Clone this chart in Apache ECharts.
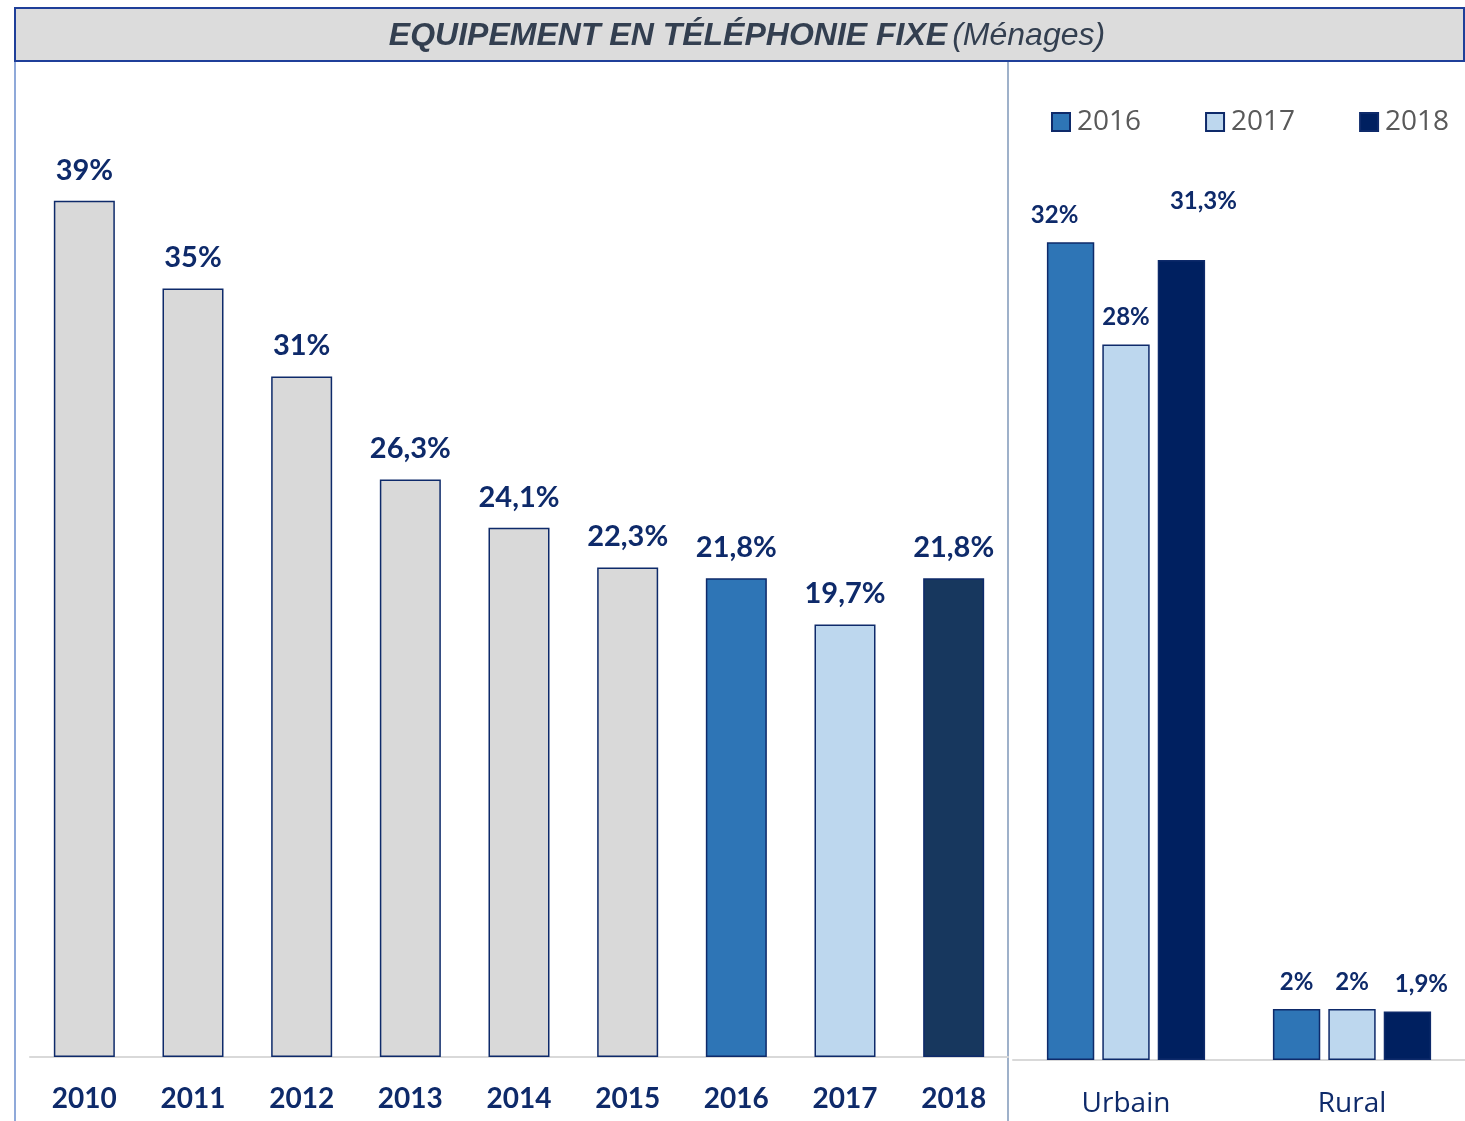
<!DOCTYPE html>
<html>
<head>
<meta charset="utf-8">
<script src="https://cdn.jsdelivr.net/npm/echarts@6/dist/echarts.min.js"></script>
<style>
  html, body { margin: 0; padding: 0; background: #fff; }
  #main { width: 1465px; height: 1121px; }
</style>
</head>
<body>
<div id="main"></div>
<script>
// annual series (left)
var years = ['2010', '2011', '2012', '2013', '2014', '2015', '2016', '2017', '2018'];
var yearValues = [39, 35, 31, 26.3, 24.1, 22.3, 21.8, 19.7, 21.8];
var yearColors = ['#d9d9d9', '#d9d9d9', '#d9d9d9', '#d9d9d9', '#d9d9d9', '#d9d9d9', '#2e75b6', '#bdd7ee', '#17375e'];

// urban / rural split (right)
var zones = ['Urbain', 'Rural'];
var zoneSeries = ['2016', '2017', '2018'];
var zone2016 = [32, 2];
var zone2017 = [28, 2];
var zone2018 = [31.3, 1.9];
var zoneColors = ['#2e75b6', '#bdd7ee', '#002060'];

var navy = '#0e2a6a';
var font = 'Lato, "Noto Sans", sans-serif';

function pct(v) {
    return String(v).replace('.', ',') + '%';
}

// label nudges copied from the original layout: [series, category] -> offset
var labelNudge = {
    '0-0': [-16, 0],
    '2-0': [22, -32],
    '2-1': [14, 0]
};

var myChart = echarts.init(document.getElementById('main'));

function zoneSeriesItem(name, data, color, idx) {
    return {
        name: name,
        type: 'bar',
        xAxisIndex: 1,
        yAxisIndex: 1,
        barGap: '17%',
        barCategoryGap: '30%',
        data: data.map(function (v, i) {
            var item = { value: v };
            var n = labelNudge[idx + '-' + i];
            if (n) item.label = { offset: n };
            return item;
        }),
        itemStyle: { color: color, borderColor: navy, borderWidth: 1.5 },
        label: {
            show: true,
            position: 'top',
            distance: 15,
            color: navy,
            fontFamily: font,
            fontWeight: 'bold',
            fontSize: 24,
            formatter: function (p) { return pct(p.value); }
        }
    };
}

var option = {
    animation: false,
    title: {
        text: '{b|EQUIPEMENT EN TÉLÉPHONIE FIXE} {n|(Ménages)}',
        left: 742,
        textAlign: 'center',
        top: 15,
        textStyle: {
            rich: {
                b: { fontFamily: '"Liberation Sans", Arial, sans-serif', fontStyle: 'italic', fontWeight: 'bold', fontSize: 32, color: '#333f50' },
                n: { fontFamily: '"Liberation Sans", Arial, sans-serif', fontStyle: 'italic', fontWeight: 'normal', fontSize: 32, color: '#333f50' }
            }
        }
    },
    graphic: [
        { type: 'rect', z: -1, shape: { x: 15, y: 8, width: 1449, height: 53 },
          style: { fill: '#dcdcdc', stroke: '#1f3f99', lineWidth: 2 } },
        { type: 'line', shape: { x1: 15, y1: 62, x2: 15, y2: 1121 },
          style: { stroke: '#8fa9d9', lineWidth: 2 } },
        { type: 'line', shape: { x1: 1008, y1: 62, x2: 1008, y2: 1121 },
          style: { stroke: '#7f97b8', lineWidth: 1.5 } }
    ],
    legend: {
        data: zoneSeries,
        left: 1046,
        top: 103,
        itemWidth: 18,
        itemHeight: 18,
        itemGap: 64,
        icon: 'rect',
        textStyle: { fontFamily: '"Open Sans", sans-serif', fontSize: 28, color: '#595959', padding: [0, 0, 0, 2] }
    },
    grid: [
        { left: 30, right: 457, top: 69, height: 988 },
        { left: 1013, right: 0, top: 140, height: 920 }
    ],
    xAxis: [
        {
            type: 'category', gridIndex: 0, data: years,
            axisLine: { lineStyle: { color: '#d9d9d9', width: 2 } },
            axisTick: { show: false },
            axisLabel: { color: navy, fontFamily: font, fontWeight: 'bold', fontSize: 28, margin: 28 }
        },
        {
            type: 'category', gridIndex: 1, data: zones,
            axisLine: { lineStyle: { color: '#d9d9d9', width: 2 } },
            axisTick: { show: false },
            axisLabel: { color: navy, fontFamily: '"Open Sans", sans-serif', fontSize: 28, margin: 30 }
        }
    ],
    yAxis: [
        { type: 'value', gridIndex: 0, min: 0, max: 45, show: false, splitLine: { show: false } },
        { type: 'value', gridIndex: 1, min: 0, max: 36, show: false, splitLine: { show: false } }
    ],
    series: [
        {
            name: 'Années',
            type: 'bar',
            xAxisIndex: 0,
            yAxisIndex: 0,
            barWidth: 61,
            data: yearValues.map(function (v, i) {
                return { value: v, itemStyle: { color: yearColors[i] } };
            }),
            itemStyle: { borderColor: navy, borderWidth: 1.5 },
            label: {
                show: true,
                position: 'top',
                distance: 16,
                color: navy,
                fontFamily: font,
                fontWeight: 'bold',
                fontSize: 29,
                formatter: function (p) { return pct(p.value); }
            }
        },
        zoneSeriesItem('2016', zone2016, zoneColors[0], 0),
        zoneSeriesItem('2017', zone2017, zoneColors[1], 1),
        zoneSeriesItem('2018', zone2018, zoneColors[2], 2)
    ]
};

myChart.setOption(option);
</script>
</body>
</html>
